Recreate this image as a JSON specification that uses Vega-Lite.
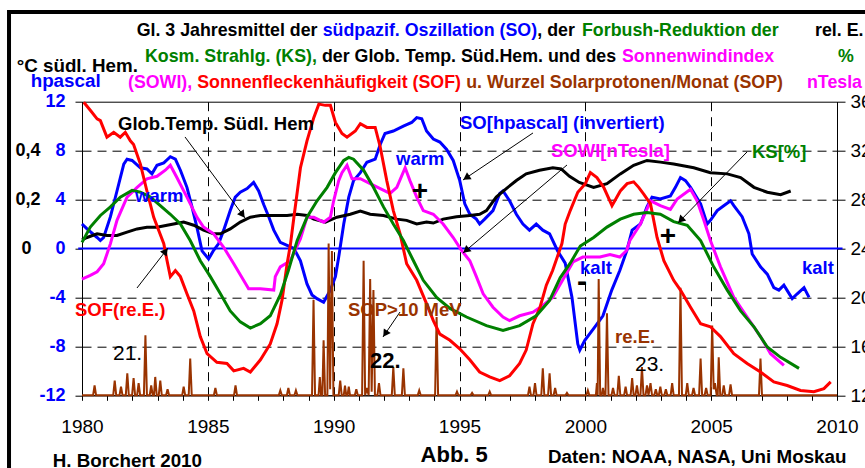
{
"$schema": "https://vega.github.io/schema/vega-lite/v6.json",
"width": 755, "height": 293.6,
"autosize": "none",
"padding": {"left": 82, "top": 101.7, "right": 28, "bottom": 72.7},
"background": "white",
"config": {"view": {"stroke": "black", "strokeWidth": 1}, "font": "Liberation Sans", "text": {"font": "Liberation Sans"}, "axis": {"labelFont": "Liberation Sans", "titleFont": "Liberation Sans"}},
"datasets": {
"so": [{"year":1980.0,"v":2.0},{"year":1980.2,"v":1.6},{"year":1980.6,"v":0.9},{"year":1980.73,"v":0.65},{"year":1980.86,"v":0.9},{"year":1981.13,"v":2.6},{"year":1981.39,"v":4.7},{"year":1981.66,"v":6.9},{"year":1981.79,"v":7.3},{"year":1981.99,"v":7.2},{"year":1982.32,"v":6.6},{"year":1982.58,"v":6.5},{"year":1982.78,"v":6.1},{"year":1982.98,"v":6.8},{"year":1983.25,"v":7.0},{"year":1983.51,"v":7.5},{"year":1983.71,"v":7.3},{"year":1983.91,"v":6.4},{"year":1984.17,"v":5.0},{"year":1984.37,"v":3.4},{"year":1984.57,"v":1.7},{"year":1984.77,"v":-0.2},{"year":1985.03,"v":-0.85},{"year":1985.23,"v":-0.15},{"year":1985.43,"v":0.4},{"year":1985.63,"v":1.5},{"year":1985.89,"v":3.1},{"year":1986.09,"v":4.2},{"year":1986.29,"v":4.6},{"year":1986.56,"v":4.9},{"year":1986.82,"v":5.4},{"year":1987.02,"v":4.7},{"year":1987.22,"v":3.6},{"year":1987.42,"v":2.6},{"year":1987.62,"v":1.5},{"year":1987.88,"v":0.5},{"year":1988.15,"v":0.25},{"year":1988.42,"v":0.0},{"year":1988.68,"v":-1.0},{"year":1988.94,"v":-2.9},{"year":1989.14,"v":-3.8},{"year":1989.34,"v":-4.1},{"year":1989.6,"v":-4.4},{"year":1989.87,"v":-3.4},{"year":1990.07,"v":-2.3},{"year":1990.2,"v":-0.7},{"year":1990.4,"v":2.0},{"year":1990.6,"v":4.2},{"year":1990.79,"v":5.55},{"year":1991.06,"v":6.2},{"year":1991.32,"v":7.05},{"year":1991.65,"v":7.3},{"year":1991.85,"v":8.5},{"year":1992.04,"v":9.4},{"year":1992.37,"v":9.6},{"year":1992.77,"v":10.0},{"year":1993.1,"v":10.3},{"year":1993.3,"v":10.7},{"year":1993.5,"v":10.6},{"year":1993.69,"v":9.6},{"year":1993.96,"v":8.95},{"year":1994.22,"v":8.7},{"year":1994.49,"v":8.1},{"year":1994.75,"v":7.2},{"year":1995.01,"v":5.55},{"year":1995.21,"v":3.65},{"year":1995.41,"v":2.8},{"year":1995.67,"v":2.4},{"year":1995.8,"v":2.0},{"year":1996.0,"v":2.4},{"year":1996.33,"v":3.1},{"year":1996.6,"v":4.5},{"year":1996.73,"v":4.7},{"year":1996.99,"v":3.9},{"year":1997.26,"v":2.8},{"year":1997.52,"v":2.0},{"year":1997.78,"v":1.5},{"year":1998.05,"v":2.0},{"year":1998.31,"v":1.5},{"year":1998.58,"v":1.2},{"year":1998.9,"v":-0.2},{"year":1999.2,"v":-1.2},{"year":1999.47,"v":-4.0},{"year":1999.7,"v":-7.8},{"year":1999.78,"v":-8.3},{"year":1999.98,"v":-7.5},{"year":2000.38,"v":-6.4},{"year":2000.7,"v":-5.5},{"year":2001.05,"v":-3.4},{"year":2001.37,"v":-1.8},{"year":2001.65,"v":-0.16},{"year":2001.86,"v":1.5},{"year":2002.19,"v":2.0},{"year":2002.45,"v":3.4},{"year":2002.65,"v":4.2},{"year":2002.98,"v":4.05},{"year":2003.38,"v":4.3},{"year":2003.58,"v":5.0},{"year":2003.78,"v":5.8},{"year":2003.98,"v":5.55},{"year":2004.18,"v":5.0},{"year":2004.58,"v":3.65},{"year":2004.84,"v":2.0},{"year":2004.97,"v":2.3},{"year":2005.24,"v":3.1},{"year":2005.5,"v":3.5},{"year":2005.77,"v":3.9},{"year":2005.9,"v":3.5},{"year":2006.23,"v":2.6},{"year":2006.5,"v":1.2},{"year":2006.63,"v":-0.45},{"year":2006.96,"v":-1.5},{"year":2007.23,"v":-2.1},{"year":2007.49,"v":-3.2},{"year":2007.69,"v":-3.4},{"year":2007.89,"v":-3.0},{"year":2008.22,"v":-4.1},{"year":2008.42,"v":-3.7},{"year":2008.69,"v":-3.2},{"year":2008.89,"v":-4.0}],
"temp": [{"year":1980.0,"v":0.035},{"year":1980.2,"v":0.045},{"year":1980.6,"v":0.06},{"year":1980.99,"v":0.053},{"year":1981.39,"v":0.053},{"year":1981.79,"v":0.067},{"year":1982.19,"v":0.08},{"year":1982.58,"v":0.087},{"year":1982.98,"v":0.087},{"year":1983.38,"v":0.095},{"year":1983.64,"v":0.1},{"year":1984.04,"v":0.108},{"year":1984.44,"v":0.095},{"year":1984.83,"v":0.075},{"year":1985.23,"v":0.06},{"year":1985.5,"v":0.06},{"year":1985.89,"v":0.08},{"year":1986.29,"v":0.108},{"year":1986.69,"v":0.128},{"year":1987.09,"v":0.135},{"year":1987.62,"v":0.135},{"year":1988.15,"v":0.135},{"year":1988.55,"v":0.14},{"year":1988.94,"v":0.135},{"year":1989.21,"v":0.12},{"year":1989.67,"v":0.108},{"year":1990.13,"v":0.128},{"year":1990.66,"v":0.14},{"year":1991.06,"v":0.153},{"year":1991.45,"v":0.14},{"year":1991.98,"v":0.135},{"year":1992.51,"v":0.12},{"year":1992.9,"v":0.115},{"year":1993.3,"v":0.1},{"year":1993.69,"v":0.108},{"year":1993.96,"v":0.104},{"year":1994.35,"v":0.12},{"year":1994.88,"v":0.13},{"year":1995.41,"v":0.135},{"year":1995.8,"v":0.14},{"year":1996.07,"v":0.155},{"year":1996.46,"v":0.21},{"year":1996.86,"v":0.245},{"year":1997.26,"v":0.278},{"year":1997.65,"v":0.305},{"year":1998.18,"v":0.32},{"year":1998.71,"v":0.33},{"year":1999.04,"v":0.325},{"year":1999.37,"v":0.295},{"year":1999.76,"v":0.27},{"year":2000.33,"v":0.25},{"year":2000.86,"v":0.265},{"year":2001.39,"v":0.305},{"year":2001.92,"v":0.34},{"year":2002.45,"v":0.36},{"year":2002.98,"v":0.353},{"year":2003.51,"v":0.345},{"year":2004.31,"v":0.33},{"year":2004.97,"v":0.31},{"year":2005.64,"v":0.305},{"year":2006.17,"v":0.29},{"year":2006.7,"v":0.25},{"year":2007.23,"v":0.23},{"year":2007.76,"v":0.22},{"year":2008.16,"v":0.235}],
"ks": [{"year":1980.0,"v":24.5},{"year":1980.33,"v":25.75},{"year":1980.73,"v":26.7},{"year":1981.13,"v":27.4},{"year":1981.52,"v":28.2},{"year":1981.99,"v":28.75},{"year":1982.32,"v":28.6},{"year":1982.72,"v":28.2},{"year":1983.11,"v":27.5},{"year":1983.51,"v":26.8},{"year":1983.91,"v":26.0},{"year":1984.3,"v":24.65},{"year":1984.7,"v":23.0},{"year":1985.1,"v":21.7},{"year":1985.5,"v":20.3},{"year":1985.89,"v":18.9},{"year":1986.29,"v":18.0},{"year":1986.69,"v":17.5},{"year":1987.09,"v":17.85},{"year":1987.48,"v":18.5},{"year":1987.88,"v":20.2},{"year":1988.2,"v":22.2},{"year":1988.55,"v":24.65},{"year":1988.94,"v":26.55},{"year":1989.34,"v":27.9},{"year":1989.74,"v":29.0},{"year":1990.07,"v":30.2},{"year":1990.4,"v":31.2},{"year":1990.6,"v":31.45},{"year":1990.79,"v":31.3},{"year":1991.19,"v":30.4},{"year":1991.58,"v":29.0},{"year":1991.98,"v":27.4},{"year":1992.37,"v":26.0},{"year":1992.77,"v":24.65},{"year":1993.17,"v":23.0},{"year":1993.56,"v":21.4},{"year":1994.09,"v":20.0},{"year":1994.62,"v":19.1},{"year":1995.28,"v":18.4},{"year":1996.07,"v":17.7},{"year":1996.73,"v":17.3},{"year":1997.39,"v":17.7},{"year":1998.05,"v":18.5},{"year":1998.58,"v":19.75},{"year":1999.0,"v":21.6},{"year":1999.4,"v":22.8},{"year":1999.8,"v":24.2},{"year":2000.33,"v":24.9},{"year":2000.86,"v":25.75},{"year":2001.39,"v":26.4},{"year":2001.92,"v":26.8},{"year":2002.45,"v":26.95},{"year":2002.98,"v":26.8},{"year":2003.51,"v":26.2},{"year":2004.05,"v":25.9},{"year":2004.58,"v":24.65},{"year":2005.1,"v":22.5},{"year":2005.64,"v":20.6},{"year":2006.17,"v":18.9},{"year":2006.7,"v":17.6},{"year":2007.23,"v":15.95},{"year":2007.76,"v":15.1},{"year":2008.49,"v":14.2}],
"sowi": [{"year":1980.0,"v":21.5},{"year":1980.33,"v":21.8},{"year":1980.6,"v":22.1},{"year":1980.86,"v":22.75},{"year":1981.13,"v":24.4},{"year":1981.39,"v":26.3},{"year":1981.79,"v":28.2},{"year":1982.19,"v":29.0},{"year":1982.58,"v":29.7},{"year":1982.98,"v":29.9},{"year":1983.31,"v":30.4},{"year":1983.51,"v":30.8},{"year":1983.77,"v":29.8},{"year":1984.17,"v":28.2},{"year":1984.57,"v":26.55},{"year":1984.83,"v":25.75},{"year":1985.23,"v":25.2},{"year":1985.63,"v":24.1},{"year":1986.03,"v":22.75},{"year":1986.42,"v":21.4},{"year":1986.62,"v":20.7},{"year":1987.09,"v":20.7},{"year":1987.62,"v":20.6},{"year":1987.68,"v":21.7},{"year":1987.88,"v":22.5},{"year":1988.28,"v":23.0},{"year":1988.68,"v":24.8},{"year":1988.94,"v":26.55},{"year":1989.21,"v":26.55},{"year":1989.6,"v":26.15},{"year":1989.87,"v":26.55},{"year":1990.0,"v":27.9},{"year":1990.2,"v":29.55},{"year":1990.33,"v":30.2},{"year":1990.53,"v":30.8},{"year":1990.73,"v":29.7},{"year":1991.06,"v":29.7},{"year":1991.45,"v":29.3},{"year":1991.85,"v":28.9},{"year":1992.24,"v":28.5},{"year":1992.51,"v":29.0},{"year":1992.84,"v":30.6},{"year":1993.03,"v":29.55},{"year":1993.3,"v":28.2},{"year":1993.56,"v":27.1},{"year":1993.96,"v":26.8},{"year":1994.35,"v":26.0},{"year":1994.75,"v":24.9},{"year":1995.08,"v":23.85},{"year":1995.41,"v":23.0},{"year":1995.67,"v":21.7},{"year":1995.94,"v":20.3},{"year":1996.33,"v":19.2},{"year":1996.73,"v":18.4},{"year":1996.99,"v":18.1},{"year":1997.39,"v":18.5},{"year":1997.92,"v":18.8},{"year":1998.31,"v":19.35},{"year":1998.7,"v":20.0},{"year":1999.51,"v":22.9},{"year":1999.9,"v":23.3},{"year":2000.58,"v":23.3},{"year":2000.98,"v":23.5},{"year":2001.37,"v":23.3},{"year":2001.64,"v":23.84},{"year":2001.77,"v":24.65},{"year":2002.19,"v":26.0},{"year":2002.59,"v":27.9},{"year":2002.98,"v":27.5},{"year":2003.38,"v":27.2},{"year":2003.65,"v":28.05},{"year":2004.18,"v":28.85},{"year":2004.44,"v":27.9},{"year":2004.71,"v":26.3},{"year":2004.97,"v":24.65},{"year":2005.37,"v":22.5},{"year":2005.9,"v":20.0},{"year":2006.43,"v":18.4},{"year":2006.96,"v":16.8},{"year":2007.36,"v":15.4},{"year":2007.89,"v":14.45}],
"sof": [{"year":1980.07,"v":35.95},{"year":1980.33,"v":35.3},{"year":1980.6,"v":34.6},{"year":1980.73,"v":34.45},{"year":1980.99,"v":33.1},{"year":1981.26,"v":33.5},{"year":1981.52,"v":33.1},{"year":1981.72,"v":33.5},{"year":1981.92,"v":32.8},{"year":1982.05,"v":32.5},{"year":1982.32,"v":30.9},{"year":1982.58,"v":28.7},{"year":1982.85,"v":26.55},{"year":1983.25,"v":24.4},{"year":1983.38,"v":23.0},{"year":1983.51,"v":21.7},{"year":1983.71,"v":22.2},{"year":1983.91,"v":21.7},{"year":1984.17,"v":20.3},{"year":1984.44,"v":18.9},{"year":1984.7,"v":16.8},{"year":1984.97,"v":15.4},{"year":1985.36,"v":14.7},{"year":1985.76,"v":14.6},{"year":1986.03,"v":14.0},{"year":1986.42,"v":14.2},{"year":1986.69,"v":13.9},{"year":1987.09,"v":14.9},{"year":1987.48,"v":16.2},{"year":1987.75,"v":17.85},{"year":1987.95,"v":19.8},{"year":1988.15,"v":22.75},{"year":1988.28,"v":24.3},{"year":1988.42,"v":26.55},{"year":1988.68,"v":30.6},{"year":1988.94,"v":32.8},{"year":1989.21,"v":34.7},{"year":1989.41,"v":35.8},{"year":1989.67,"v":35.7},{"year":1989.87,"v":35.7},{"year":1990.07,"v":34.3},{"year":1990.33,"v":33.4},{"year":1990.53,"v":33.1},{"year":1990.86,"v":33.6},{"year":1991.06,"v":34.2},{"year":1991.32,"v":33.9},{"year":1991.65,"v":33.9},{"year":1991.85,"v":32.3},{"year":1992.11,"v":29.55},{"year":1992.37,"v":27.1},{"year":1992.64,"v":25.2},{"year":1992.9,"v":22.75},{"year":1993.3,"v":21.4},{"year":1993.69,"v":19.5},{"year":1993.96,"v":18.1},{"year":1994.22,"v":17.0},{"year":1994.62,"v":16.5},{"year":1995.01,"v":15.8},{"year":1995.41,"v":14.9},{"year":1995.8,"v":13.9},{"year":1996.2,"v":13.5},{"year":1996.6,"v":13.2},{"year":1996.99,"v":13.6},{"year":1997.39,"v":14.6},{"year":1997.65,"v":15.7},{"year":1997.92,"v":17.85},{"year":1998.2,"v":19.2},{"year":1998.45,"v":21.0},{"year":1998.7,"v":22.2},{"year":1999.07,"v":24.4},{"year":1999.2,"v":26.0},{"year":1999.4,"v":27.1},{"year":1999.7,"v":28.6},{"year":2000.0,"v":29.3},{"year":2000.2,"v":30.2},{"year":2000.46,"v":29.8},{"year":2000.73,"v":29.0},{"year":2001.06,"v":27.5},{"year":2001.39,"v":28.7},{"year":2001.66,"v":29.3},{"year":2001.92,"v":29.45},{"year":2002.12,"v":29.0},{"year":2002.32,"v":28.45},{"year":2002.59,"v":27.65},{"year":2002.85,"v":24.9},{"year":2003.12,"v":23.0},{"year":2003.51,"v":21.4},{"year":2003.78,"v":20.6},{"year":2004.18,"v":19.2},{"year":2004.58,"v":17.85},{"year":2004.97,"v":17.6},{"year":2005.37,"v":16.8},{"year":2005.9,"v":15.4},{"year":2006.43,"v":14.6},{"year":2006.96,"v":13.9},{"year":2007.49,"v":13.1},{"year":2008.02,"v":12.8},{"year":2008.55,"v":12.4},{"year":2009.08,"v":12.3},{"year":2009.48,"v":12.55},{"year":2009.75,"v":13.1}],
"sop": [{"year":1980.0,"v":12},{"year":1980.44,"v":12},{"year":1980.5,"v":12.8},{"year":1980.56,"v":12},{"year":1981.24,"v":12},{"year":1981.3,"v":13.2},{"year":1981.36,"v":12},{"year":1981.49,"v":12},{"year":1981.55,"v":12.7},{"year":1981.61,"v":12},{"year":1981.74,"v":12},{"year":1981.8,"v":13.8},{"year":1981.86,"v":12},{"year":1981.99,"v":12},{"year":1982.05,"v":13.4},{"year":1982.11,"v":12},{"year":1982.19,"v":12},{"year":1982.25,"v":13.0},{"year":1982.31,"v":12},{"year":1982.46,"v":12},{"year":1982.52,"v":16.9},{"year":1982.58,"v":12},{"year":1982.69,"v":12},{"year":1982.75,"v":12.8},{"year":1982.81,"v":12},{"year":1982.86,"v":12},{"year":1982.91,"v":13.5},{"year":1982.97,"v":12},{"year":1983.05,"v":12},{"year":1983.11,"v":13.2},{"year":1983.17,"v":12},{"year":1983.34,"v":12},{"year":1983.4,"v":12.5},{"year":1983.46,"v":12},{"year":1983.98,"v":12},{"year":1984.04,"v":12.7},{"year":1984.1,"v":12},{"year":1984.24,"v":12},{"year":1984.3,"v":15.0},{"year":1984.36,"v":12},{"year":1985.24,"v":12},{"year":1985.3,"v":12.6},{"year":1985.36,"v":12},{"year":1986.04,"v":12},{"year":1986.1,"v":12.8},{"year":1986.16,"v":12},{"year":1987.82,"v":12},{"year":1987.88,"v":12.4},{"year":1987.94,"v":12},{"year":1988.14,"v":12},{"year":1988.2,"v":12.6},{"year":1988.26,"v":12},{"year":1988.44,"v":12},{"year":1988.5,"v":12.4},{"year":1988.56,"v":12},{"year":1989.14,"v":12},{"year":1989.2,"v":19.8},{"year":1989.26,"v":12},{"year":1989.4,"v":12},{"year":1989.45,"v":13.5},{"year":1989.5,"v":12},{"year":1989.55,"v":12},{"year":1989.6,"v":16.5},{"year":1989.66,"v":12},{"year":1989.75,"v":12},{"year":1989.8,"v":24.4},{"year":1989.86,"v":12.5},{"year":1989.93,"v":23.8},{"year":1989.99,"v":12},{"year":1990.2,"v":12},{"year":1990.26,"v":13.2},{"year":1990.32,"v":12},{"year":1990.4,"v":12},{"year":1990.45,"v":12.8},{"year":1990.5,"v":12},{"year":1990.55,"v":12},{"year":1990.6,"v":12.7},{"year":1990.65,"v":12},{"year":1990.84,"v":12},{"year":1990.9,"v":12.5},{"year":1990.96,"v":12},{"year":1991.13,"v":12},{"year":1991.19,"v":23.0},{"year":1991.25,"v":12},{"year":1991.32,"v":12.6},{"year":1991.39,"v":12},{"year":1991.45,"v":21.5},{"year":1991.51,"v":12.3},{"year":1991.58,"v":20.6},{"year":1991.64,"v":12},{"year":1991.74,"v":12},{"year":1991.8,"v":13.0},{"year":1991.86,"v":12},{"year":1992.31,"v":12},{"year":1992.37,"v":14.3},{"year":1992.43,"v":12},{"year":1992.71,"v":12},{"year":1992.77,"v":14.2},{"year":1992.83,"v":12},{"year":1993.34,"v":12},{"year":1993.4,"v":12.4},{"year":1993.46,"v":12},{"year":1994.03,"v":12},{"year":1994.09,"v":18.4},{"year":1994.15,"v":12},{"year":1994.84,"v":12},{"year":1994.9,"v":12.3},{"year":1994.96,"v":12},{"year":1995.44,"v":12},{"year":1995.5,"v":12.2},{"year":1995.56,"v":12},{"year":1996.14,"v":12},{"year":1996.2,"v":12.3},{"year":1996.26,"v":12},{"year":1997.72,"v":12},{"year":1997.78,"v":12.7},{"year":1997.84,"v":12},{"year":1997.94,"v":12},{"year":1998.0,"v":13.0},{"year":1998.06,"v":12},{"year":1998.25,"v":12},{"year":1998.31,"v":14.2},{"year":1998.37,"v":12},{"year":1998.52,"v":12},{"year":1998.58,"v":13.8},{"year":1998.64,"v":12},{"year":1998.74,"v":12},{"year":1998.8,"v":12.6},{"year":1998.86,"v":12},{"year":1999.21,"v":12},{"year":1999.27,"v":12.2},{"year":1999.33,"v":12},{"year":2000.04,"v":12},{"year":2000.1,"v":12.4},{"year":2000.16,"v":12},{"year":2000.42,"v":12},{"year":2000.46,"v":13.0},{"year":2000.49,"v":12},{"year":2000.53,"v":21.5},{"year":2000.59,"v":12},{"year":2000.65,"v":12},{"year":2000.7,"v":12.6},{"year":2000.75,"v":12},{"year":2000.8,"v":12},{"year":2000.86,"v":18.7},{"year":2000.92,"v":12},{"year":2001.04,"v":12},{"year":2001.1,"v":12.6},{"year":2001.16,"v":12},{"year":2001.27,"v":12},{"year":2001.33,"v":13.6},{"year":2001.39,"v":12},{"year":2001.54,"v":12},{"year":2001.6,"v":12.7},{"year":2001.66,"v":12},{"year":2001.8,"v":12},{"year":2001.86,"v":13.4},{"year":2001.92,"v":12},{"year":2001.99,"v":12},{"year":2002.05,"v":12.8},{"year":2002.11,"v":12},{"year":2002.19,"v":12},{"year":2002.25,"v":14.3},{"year":2002.31,"v":12},{"year":2002.39,"v":12},{"year":2002.45,"v":12.8},{"year":2002.51,"v":12},{"year":2002.59,"v":13.0},{"year":2002.65,"v":12},{"year":2002.74,"v":12},{"year":2002.8,"v":12.5},{"year":2002.86,"v":12},{"year":2002.92,"v":12},{"year":2002.98,"v":12.7},{"year":2003.04,"v":12},{"year":2003.14,"v":12},{"year":2003.2,"v":12.5},{"year":2003.26,"v":12},{"year":2003.39,"v":12},{"year":2003.45,"v":13.0},{"year":2003.51,"v":12},{"year":2003.72,"v":12},{"year":2003.78,"v":20.8},{"year":2003.84,"v":12},{"year":2003.99,"v":12},{"year":2004.05,"v":13.0},{"year":2004.11,"v":12},{"year":2004.24,"v":12},{"year":2004.3,"v":12.6},{"year":2004.36,"v":12},{"year":2004.52,"v":12},{"year":2004.58,"v":15.0},{"year":2004.64,"v":12},{"year":2004.74,"v":12},{"year":2004.8,"v":12.6},{"year":2004.86,"v":12},{"year":2004.98,"v":12},{"year":2005.04,"v":17.7},{"year":2005.1,"v":12.5},{"year":2005.15,"v":13.0},{"year":2005.22,"v":12},{"year":2005.26,"v":12},{"year":2005.3,"v":15.1},{"year":2005.36,"v":12},{"year":2005.44,"v":12},{"year":2005.5,"v":12.8},{"year":2005.56,"v":12},{"year":2005.71,"v":12},{"year":2005.77,"v":12.9},{"year":2005.83,"v":12},{"year":2006.9,"v":12},{"year":2006.96,"v":15.0},{"year":2007.02,"v":12},{"year":2010.0,"v":12}],
"zero": [{"year":1979.85,"year2":2010.22,"v":0}],
"frame": [{"year":1977.1,"year2":2012,"v":19.34,"v2":-19}],
"arrows": [{"year":1984.093,"v":9.117,"year2":1986.477,"v2":2.494},{"year":1997.92,"v":9.444,"year2":1995.139,"v2":5.601},{"year":1999.272,"v":6.827,"year2":1995.139,"v2":-0.368},{"year":2006.424,"v":7.89,"year2":2003.682,"v2":2.085},{"year":1982.185,"v":-3.229,"year2":1983.417,"v2":0.041},{"year":1992.636,"v":-5.192,"year2":1991.96,"v2":-7.236}],
"h1": [{"year":1986.38,"v":2.76}],
"h2": [{"year":1995.27,"v":5.78}],
"h3": [{"year":1995.26,"v":-0.16}],
"h4": [{"year":2003.79,"v":2.32}],
"h5": [{"year":1983.32,"v":-0.22}],
"h6": [{"year":1992.05,"v":-6.97}],
"tt_black": [{"year":1982.173,"v":17.38,"t":"Gl. 3 Jahresmittel der"},{"year":1998.091,"v":17.38,"t":", der"},{"year":1989.536,"v":15.21,"t":"der Glob. Temp. Süd.Hem. und des"},{"year":2009.126,"v":17.38,"t":"rel. E."}],
"tt_blue": [{"year":1989.564,"v":17.38,"t":"südpazif. Oszillation (SO)"}],
"tt_green": [{"year":1999.868,"v":17.38,"t":"Forbush-Reduktion der"},{"year":1982.503,"v":15.21,"t":"Kosm. Strahlg. (KS),"},{"year":2010.04,"v":15.21,"t":"%"}],
"tt_magenta": [{"year":2001.457,"v":15.21,"t":"Sonnenwindindex"},{"year":1981.828,"v":13.16,"t":"(SOWI),"},{"year":2008.808,"v":13.16,"t":"nTesla"}],
"tt_red": [{"year":1984.577,"v":13.16,"t":"Sonnenfleckenhäufigkeit (SOF)"}],
"tt_brown": [{"year":1995.266,"v":13.16,"t":"u. Wurzel Solarprotonen/Monat (SOP)"}],
"ts_black": [{"year":1977.405,"v":14.46,"t":"°C südl. Hem."},{"year":1978.836,"v":-17.87,"t":"H. Borchert 2010"},{"year":1998.517,"v":-17.54,"t":"Daten: NOAA, NASA, Uni Moskau"}],
"ts_blue": [{"year":1977.96,"v":13.18,"t":"hpascal"}],
"t_abb": [{"year":1993.454,"v":-17.46,"t":"Abb. 5"}],
"a_black": [{"year":1981.43,"v":9.69,"t":"Glob.Temp. Südl. Hem"}],
"a_blue": [{"year":1982.106,"v":3.83,"t":"warm"},{"year":1992.477,"v":6.83,"t":"warm"},{"year":1995.02,"v":9.75,"t":"SO[hpascal] (invertiert)"},{"year":1999.79,"v":-2.11,"t":"kalt"},{"year":2008.61,"v":-2.11,"t":"kalt"}],
"a_magenta": [{"year":1998.636,"v":7.51,"t":"SOWI[nTesla]"}],
"a_green": [{"year":2006.622,"v":7.37,"t":"KS[%]"}],
"a_red": [{"year":1979.72,"v":-5.52,"t":"SOF(re.E.)"}],
"a_brown": [{"year":1990.57,"v":-5.52,"t":"SOP>10 MeV"},{"year":2001.179,"v":-7.7,"t":"re.E."}],
"a_num": [{"year":1981.232,"v":-9.12,"t":"21."},{"year":2001.974,"v":-9.99,"t":"23."}],
"a_num_b": [{"year":1991.443,"v":-9.75,"t":"22."}],
"a_plus": [{"year":1993.43,"v":3.98,"t":"+"},{"year":2003.284,"v":0.3,"t":"+"}],
"a_minus": [{"year":1999.868,"v":-3.46,"t":"-"}]
},
"encoding": {
"x": {"field": "year", "type": "quantitative", "scale": {"domain": [1980, 2010], "nice": false, "zero": false},
 "axis": {"title": null, "values": [1980,1981,1982,1983,1984,1985,1986,1987,1988,1989,1990,1991,1992,1993,1994,1995,1996,1997,1998,1999,2000,2001,2002,2003,2004,2005,2006,2007,2008,2009,2010],
  "labelExpr": "datum.value % 5 == 0 ? '' + datum.value : ''", "labelFlush": false, "labelOverlap": false, "labelFontSize": 19, "labelColor": "black", "labelPadding": 17,
  "tickSize": 5, "tickColor": "black", "domainColor": "black", "grid": true, "gridColor": "black", "gridDash": [9, 6], "gridWidth": 1,
  "gridOpacity": {"condition": {"test": "datum.value % 5 == 0 && datum.value > 1980 && datum.value < 2010", "value": 1}, "value": 0}}}
},
"layer": [
 {"encoding": {"y": {"field": "v", "type": "quantitative", "scale": {"domain": [-12, 12], "nice": false, "zero": false},
   "axis": {"orient": "left", "title": null, "values": [-12,-8,-4,0,4,8,12], "labelExpr": "'' + datum.value", "labelFontSize": 18, "labelFontWeight": "bold", "labelColor": "#0000FF", "labelPadding": 10, "tickSize": 7, "tickColor": "black", "domainColor": "black", "labelOverlap": false,
    "grid": true, "gridColor": "black", "gridDash": [9, 6], "gridOpacity": {"condition": {"test": "abs(datum.value) == 4 || abs(datum.value) == 8", "value": 1}, "value": 0}}}},
  "layer": [
   {"data": {"name": "zero"}, "mark": {"type": "rule", "color": "#0000FF", "strokeWidth": 2}, "encoding": {"x2": {"field": "year2"}}},
   {"data": {"name": "so"}, "mark": {"type": "line", "color": "#0000FF", "strokeWidth": 3}, "encoding": {}}
  ]},
 {"encoding": {"y": {"field": "v", "type": "quantitative", "scale": {"domain": [-0.6, 0.6], "nice": false, "zero": false},
   "axis": {"orient": "left", "title": null, "values": [0, 0.2, 0.4], "labelExpr": "datum.value == 0 ? '0' : replace(format(datum.value, '.1f'), '.', ',')", "ticks": false, "tickSize": 0, "domain": false, "grid": false, "labelAlign": "left",
    "labelPadding": {"condition": {"test": "datum.value == 0", "value": 61}, "value": 67}, "labelFontSize": 18, "labelFontWeight": "bold", "labelColor": "black", "labelOverlap": false}}},
  "layer": [
   {"data": {"name": "temp"}, "mark": {"type": "line", "color": "black", "strokeWidth": 3}, "encoding": {}}
  ]},
 {"encoding": {"y": {"field": "v", "type": "quantitative", "scale": {"domain": [12, 36], "nice": false, "zero": false},
   "axis": {"orient": "right", "title": null, "values": [12,16,20,24,28,32,36], "labelExpr": "'' + datum.value", "labelFontSize": 19, "labelColor": "black", "labelPadding": 5, "tickSize": 8, "tickColor": "black", "domainColor": "black", "grid": false, "labelOverlap": false}}},
  "layer": [
   {"data": {"name": "sop"}, "mark": {"type": "line", "color": "#993300", "strokeWidth": 2}, "encoding": {}},
   {"data": {"name": "sowi"}, "mark": {"type": "line", "color": "#FF00FF", "strokeWidth": 3}, "encoding": {}},
   {"data": {"name": "sof"}, "mark": {"type": "line", "color": "#FF0000", "strokeWidth": 3}, "encoding": {}},
   {"data": {"name": "ks"}, "mark": {"type": "line", "color": "#008000", "strokeWidth": 3}, "encoding": {}}
  ]},
 {"encoding": {"y": {"field": "v", "type": "quantitative", "scale": {"domain": [-12, 12], "nice": false, "zero": false}, "axis": null}},
  "layer": [
   {"data": {"name": "frame"}, "mark": {"type": "rect", "fillOpacity": 0, "stroke": "black", "strokeWidth": 4}, "encoding": {"x2": {"field": "year2"}, "y2": {"field": "v2"}}},
   {"data": {"name": "arrows"}, "mark": {"type": "rule", "color": "black", "strokeWidth": 1}, "encoding": {"x2": {"field": "year2"}, "y2": {"field": "v2"}}},
   {"data": {"name": "h1"}, "mark": {"type": "point", "shape": "triangle-up", "filled": true, "color": "black", "opacity": 1, "size": 70, "angle": 143.5}},
   {"data": {"name": "h2"}, "mark": {"type": "point", "shape": "triangle-up", "filled": true, "color": "black", "opacity": 1, "size": 70, "angle": 236.1}},
   {"data": {"name": "h3"}, "mark": {"type": "point", "shape": "triangle-up", "filled": true, "color": "black", "opacity": 1, "size": 70, "angle": 229.8}},
   {"data": {"name": "h4"}, "mark": {"type": "point", "shape": "triangle-up", "filled": true, "color": "black", "opacity": 1, "size": 70, "angle": 224.2}},
   {"data": {"name": "h5"}, "mark": {"type": "point", "shape": "triangle-up", "filled": true, "color": "black", "opacity": 1, "size": 70, "angle": 37.8}},
   {"data": {"name": "h6"}, "mark": {"type": "point", "shape": "triangle-up", "filled": true, "color": "black", "opacity": 1, "size": 70, "angle": 214.2}},
   {"data": {"name": "tt_black"}, "mark": {"type": "text", "align": "left", "baseline": "alphabetic", "fontSize": 17.8, "fontWeight": "bold", "color": "black"}, "encoding": {"text": {"field": "t"}}},
   {"data": {"name": "tt_blue"}, "mark": {"type": "text", "align": "left", "baseline": "alphabetic", "fontSize": 17.8, "fontWeight": "bold", "color": "#0000FF"}, "encoding": {"text": {"field": "t"}}},
   {"data": {"name": "tt_green"}, "mark": {"type": "text", "align": "left", "baseline": "alphabetic", "fontSize": 17.8, "fontWeight": "bold", "color": "#008000"}, "encoding": {"text": {"field": "t"}}},
   {"data": {"name": "tt_magenta"}, "mark": {"type": "text", "align": "left", "baseline": "alphabetic", "fontSize": 17.8, "fontWeight": "bold", "color": "#FF00FF"}, "encoding": {"text": {"field": "t"}}},
   {"data": {"name": "tt_red"}, "mark": {"type": "text", "align": "left", "baseline": "alphabetic", "fontSize": 17.8, "fontWeight": "bold", "color": "#FF0000"}, "encoding": {"text": {"field": "t"}}},
   {"data": {"name": "tt_brown"}, "mark": {"type": "text", "align": "left", "baseline": "alphabetic", "fontSize": 17.8, "fontWeight": "bold", "color": "#993300"}, "encoding": {"text": {"field": "t"}}},
   {"data": {"name": "ts_black"}, "mark": {"type": "text", "align": "left", "baseline": "alphabetic", "fontSize": 18.8, "fontWeight": "bold", "color": "black"}, "encoding": {"text": {"field": "t"}}},
   {"data": {"name": "ts_blue"}, "mark": {"type": "text", "align": "left", "baseline": "alphabetic", "fontSize": 18.8, "fontWeight": "bold", "color": "#0000FF"}, "encoding": {"text": {"field": "t"}}},
   {"data": {"name": "t_abb"}, "mark": {"type": "text", "align": "left", "baseline": "alphabetic", "fontSize": 22, "fontWeight": "bold", "color": "black"}, "encoding": {"text": {"field": "t"}}},
   {"data": {"name": "a_black"}, "mark": {"type": "text", "align": "left", "baseline": "alphabetic", "fontSize": 18.5, "fontWeight": "bold", "color": "black"}, "encoding": {"text": {"field": "t"}}},
   {"data": {"name": "a_blue"}, "mark": {"type": "text", "align": "left", "baseline": "alphabetic", "fontSize": 18.5, "fontWeight": "bold", "color": "#0000FF"}, "encoding": {"text": {"field": "t"}}},
   {"data": {"name": "a_magenta"}, "mark": {"type": "text", "align": "left", "baseline": "alphabetic", "fontSize": 18.5, "fontWeight": "bold", "color": "#FF00FF"}, "encoding": {"text": {"field": "t"}}},
   {"data": {"name": "a_green"}, "mark": {"type": "text", "align": "left", "baseline": "alphabetic", "fontSize": 18.5, "fontWeight": "bold", "color": "#008000"}, "encoding": {"text": {"field": "t"}}},
   {"data": {"name": "a_red"}, "mark": {"type": "text", "align": "left", "baseline": "alphabetic", "fontSize": 18.5, "fontWeight": "bold", "color": "#FF0000"}, "encoding": {"text": {"field": "t"}}},
   {"data": {"name": "a_brown"}, "mark": {"type": "text", "align": "left", "baseline": "alphabetic", "fontSize": 18.5, "fontWeight": "bold", "color": "#993300"}, "encoding": {"text": {"field": "t"}}},
   {"data": {"name": "a_num"}, "mark": {"type": "text", "align": "left", "baseline": "alphabetic", "fontSize": 21, "color": "black"}, "encoding": {"text": {"field": "t"}}},
   {"data": {"name": "a_num_b"}, "mark": {"type": "text", "align": "left", "baseline": "alphabetic", "fontSize": 22, "fontWeight": "bold", "color": "black"}, "encoding": {"text": {"field": "t"}}},
   {"data": {"name": "a_plus"}, "mark": {"type": "text", "align": "center", "baseline": "alphabetic", "fontSize": 28, "fontWeight": "bold", "color": "black"}, "encoding": {"text": {"field": "t"}}},
   {"data": {"name": "a_minus"}, "mark": {"type": "text", "align": "center", "baseline": "alphabetic", "fontSize": 30, "fontWeight": "bold", "color": "black"}, "encoding": {"text": {"field": "t"}}}
  ]}
],
"resolve": {"scale": {"y": "independent"}}
}
